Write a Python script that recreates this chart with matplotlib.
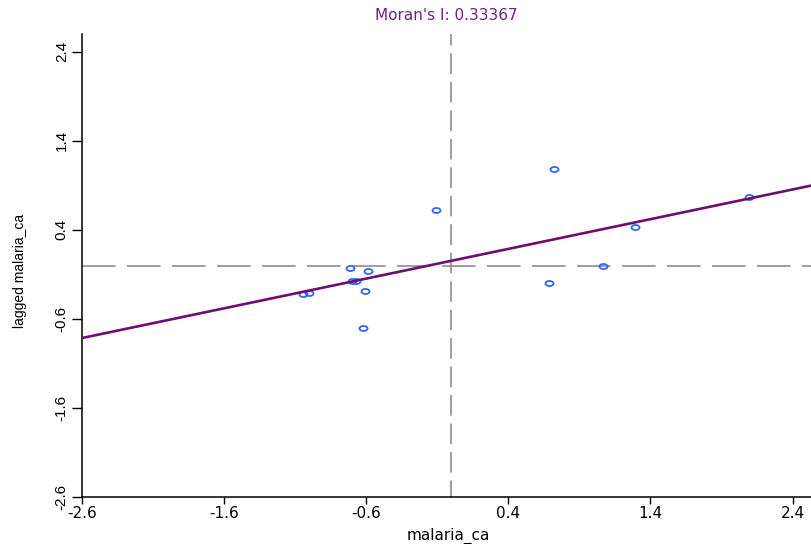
import matplotlib
matplotlib.use("Agg")
import matplotlib.pyplot as plt
from matplotlib.path import Path
from matplotlib.transforms import Affine2D

# standardised values and their spatial lag
malaria_ca = [0.724, -0.107, 1.294, 1.067, 0.687, -0.715, -0.584,
              -0.701, -0.671, -0.607, -1.046, -1.000, -0.621, 2.097]
lagged_ca = [1.085, 0.621, 0.437, -0.001, -0.199, -0.027, -0.064,
             -0.170, -0.170, -0.289, -0.319, -0.304, -0.701, 0.774]

morans_i = 0.33367      # slope of the fitted line
intercept = 0.053
x_mean = 0.0
y_mean = 0.0

ticks = [-2.6, -1.6, -0.6, 0.4, 1.4, 2.4]
tick_labels = ["-2.6", "-1.6", "-0.6", "0.4", "1.4", "2.4"]

plt.rcParams['lines.scale_dashes'] = False

fig = plt.figure(figsize=(8.11, 5.44), dpi=100)
ax = fig.add_axes([82 / 811, 47 / 544, 1 - 82 / 811, 463 / 544])
ax.set_xlim(-2.6, 2.53)
ax.set_ylim(-2.6, 2.6)

# the reference is stretched sideways, so the circles are ellipses
ellipse = Path.unit_circle().transformed(Affine2D().scale(1.6, 1.0))
ax.plot(malaria_ca, lagged_ca, linestyle='none', marker=ellipse,
        markersize=5.8, markerfacecolor='none', markeredgecolor='#3366FF',
        markeredgewidth=1.3, zorder=3)

# mean lines
ax.plot([-2.6, 2.53], [y_mean, y_mean], color='#8c8c8c', lw=1.2,
        linestyle=(0, (24.2, 8.2)), zorder=1)
ax.plot([x_mean, x_mean], [2.6, -2.6], color='#8c8c8c', lw=1.2,
        linestyle=(6.5, (14.8, 5.7)), zorder=1)

ax.axline((0, intercept), slope=morans_i, color='#6B0F70', lw=1.9, zorder=4)

for s in ['top', 'right']:
    ax.spines[s].set_visible(False)
for s in ['left', 'bottom']:
    ax.spines[s].set_linewidth(1.1)

ax.set_xticks(ticks)
ax.set_xticklabels(tick_labels, fontfamily='DejaVu Sans', fontsize=11)
ax.set_yticks(ticks)
ax.set_yticklabels(tick_labels, fontfamily='Liberation Sans',
                   fontsize=11, rotation=90, va='center')
ax.tick_params(axis='x', length=5, width=1.0, pad=1.5)
ax.tick_params(axis='y', length=7, width=1.0, pad=2.5)

ax.set_xlabel("malaria_ca", fontfamily='DejaVu Sans', fontsize=11, va='center')
ax.xaxis.set_label_coords(0.502, -0.083)
ax.set_ylabel("lagged malaria_ca", fontfamily='Liberation Sans',
              fontsize=10, va='center')
ax.yaxis.set_label_coords(-0.085, 0.488)

ax.set_title("Moran's I: 0.33367", fontfamily='DejaVu Sans', fontsize=11,
             color='#702080', y=1.041, pad=0, va='center')

fig.savefig("out.png", dpi=100)
